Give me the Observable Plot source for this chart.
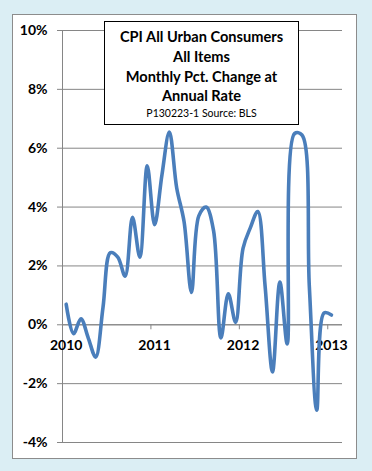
<!DOCTYPE html>
<html>
<head>
<meta charset="utf-8">
<script src="https://cdn.jsdelivr.net/npm/d3@7"></script>
<script src="https://cdn.jsdelivr.net/npm/@observablehq/plot@0.6"></script>
<style>
  html, body { margin: 0; padding: 0; }
  body { width: 372px; height: 471px; background: #dbeef4; position: relative; overflow: hidden; font-family: Lato, "Open Sans", sans-serif; }
  #panel { position: absolute; left: 12px; top: 14px; width: 343px; height: 443px; background: #fff; border: 1px solid #8c8c8c; }
  #chart { position: absolute; left: 0; top: 0; }
  #titlebox { position: absolute; left: 104px; top: 21px; width: 193px; height: 102px; background: #fff; border: 1px solid #000; text-align: center; }
  #titlebox .t { font-weight: bold; font-size: 14.6px; line-height: 19.8px; color: #000; }
  #titlebox .s { font-size: 10.5px; line-height: 13px; color: #000; margin-top: 1px; }
</style>
</head>
<body>
<div id="panel"></div>
<div id="chart"></div>
<div id="titlebox">
  <div class="t" style="margin-top:5px">CPI All Urban Consumers<br>All Items<br>Monthly Pct. Change at<br>Annual Rate</div>
  <div class="s">P130223-1 Source: BLS</div>
</div>
<script>
const months = [
  "2010-01","2010-02","2010-03","2010-04","2010-05","2010-06","2010-07","2010-08","2010-09","2010-10","2010-11","2010-12",
  "2011-01","2011-02","2011-03","2011-04","2011-05","2011-06","2011-07","2011-08","2011-09","2011-10","2011-11","2011-12",
  "2012-01","2012-02","2012-03","2012-04","2012-05","2012-06","2012-07","2012-08","2012-09","2012-10","2012-11","2012-12",
  "2013-01"
];
const values = [
  0.7, -0.3, 0.2, -0.45, -1.1, 0.6, 2.45, 2.3, 1.65, 3.65, 2.3, 5.4,
  3.4, 5.1, 6.55, 4.65, 3.5, 1.1, 3.7, 4.0, 3.2, -0.45, 1.05, 0.08,
  2.6, 3.3, 3.85, 1.3, -1.6, 1.45, -0.65, 6.5, 6.45, 1.3, -2.9, 0.4,
  0.33
];
const yearLabels = ["2010", "2011", "2012", "2013"];
const yTicks = [-4, -2, 0, 2, 4, 6, 8, 10];

const data = months.map((m, i) => ({i, month: m, value: values[i]}));
const yearPos = yearLabels.map(y => ({label: y, i: months.indexOf(y + "-01")}));
const boundaries = yearPos.map(d => d.i - 0.5);
const xDomain = [-0.5, months.length + 0.5];

const chart = Plot.plot({
  width: 372,
  height: 471,
  marginLeft: 62,
  marginRight: 30,
  marginTop: 30,
  marginBottom: 29,
  style: {background: "transparent", overflow: "visible", fontFamily: "Lato, 'Open Sans', sans-serif"},
  x: {domain: xDomain, axis: null},
  y: {domain: [-4, 10], axis: null},
  marks: [
    Plot.axisY({
      ticks: yTicks,
      label: null,
      tickSize: 5,
      tickPadding: 10,
      tickFormat: d => d + "%",
      fontSize: 14,
      fontWeight: "bold",
      fill: "#000",
      stroke: "#868686",
      strokeOpacity: 1
    }),
    Plot.gridY(yTicks, {stroke: "#868686", strokeOpacity: 1}),
    Plot.ruleX([xDomain[0]], {stroke: "#868686", strokeWidth: 1}),
    Plot.ruleY([0], {stroke: "#868686", strokeWidth: 1}),
    Plot.ruleX(boundaries, {x: d => d, y1: 0, y2: 0, insetBottom: -5, stroke: "#868686"}),
    Plot.text(yearPos, {x: "i", y: () => 0, text: "label", dy: 21, fontSize: 14, fontWeight: "bold", fill: "#000"}),
    Plot.line(data, {x: "i", y: "value", stroke: "#4a7ebb", strokeWidth: 3.6, curve: d3.curveCatmullRom.alpha(0.5)})
  ]
});
document.getElementById("chart").appendChild(chart);
</script>
</body>
</html>
